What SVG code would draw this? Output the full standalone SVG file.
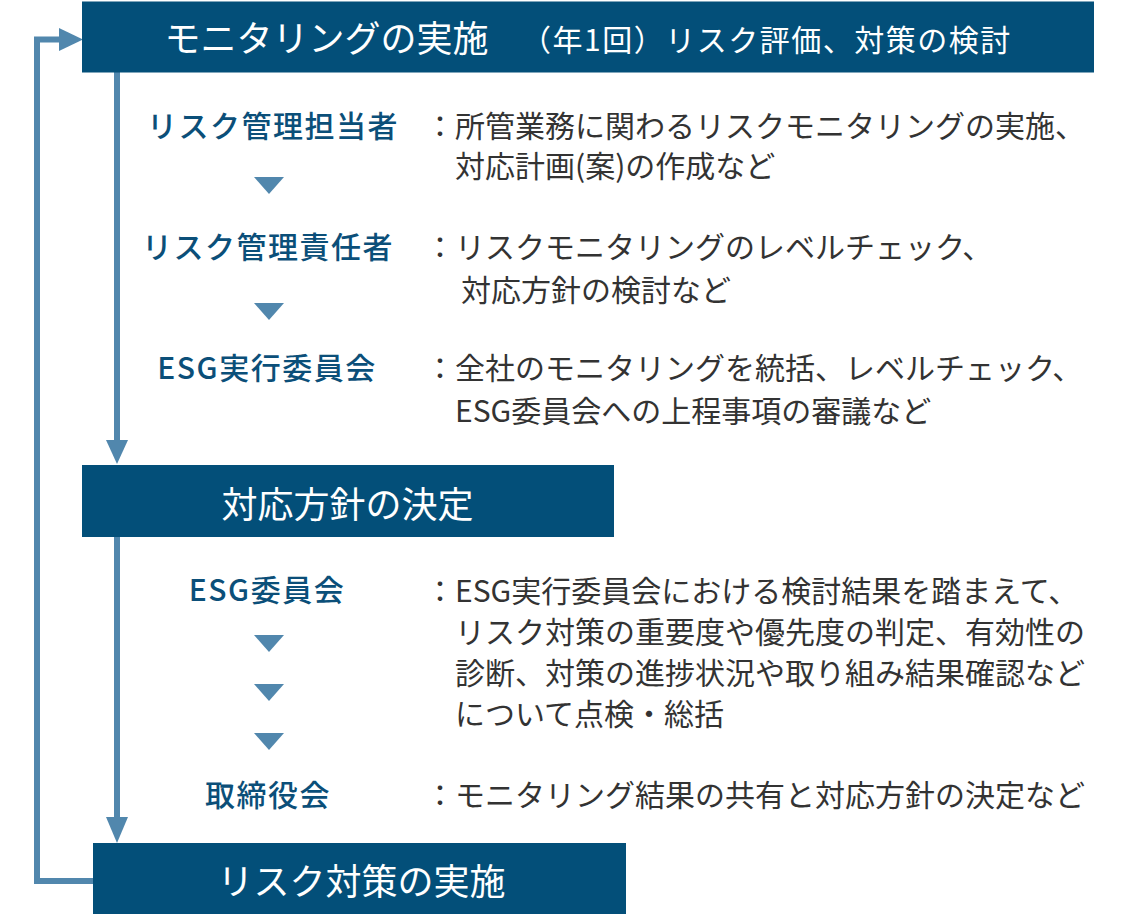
<svg xmlns="http://www.w3.org/2000/svg" width="1134" height="914" viewBox="0 0 1134 914">
<defs>
<style>
.bar{fill:#034f79}
.bt{fill:#ffffff;font-family:"Noto Sans CJK JP","Noto Sans",sans-serif;font-size:36px}
.bs{fill:#ffffff;font-family:"Noto Sans CJK JP","Noto Sans",sans-serif;font-size:30px;letter-spacing:1.5px}
.lb{fill:#0b4f79;font-family:"Noto Sans CJK JP","Noto Sans",sans-serif;font-size:30px;font-weight:500;letter-spacing:1.5px;text-anchor:middle}
.ds{fill:#333333;font-family:"Noto Sans CJK JP","Noto Sans",sans-serif;font-size:30px}
.ln{fill:none;stroke:#5187ad;stroke-width:6}
.ah{fill:#5187ad}
</style>
</defs>
<rect width="1134" height="914" fill="#ffffff"/>
<g id="connectors">
<path class="ln" d="M93,881 H37 V39.5 H62"/>
<polygon class="ah" points="59,28 83,39.5 59,51"/>
<line class="ln" x1="117" y1="72" x2="117" y2="442"/>
<polygon class="ah" points="106,440 128,440 117,464"/>
<line class="ln" x1="117" y1="536" x2="117" y2="819"/>
<polygon class="ah" points="106,817 128,817 117,843"/>
<polygon class="ah" points="254,177 284,177 269,194"/>
<polygon class="ah" points="254,303 284,303 269,320"/>
<polygon class="ah" points="254,635 284,635 269,652"/>
<polygon class="ah" points="254,684 284,684 269,701"/>
<polygon class="ah" points="254,733 284,733 269,750"/>
</g>
<g id="node-monitoring">
<rect class="bar" x="82" y="1.5" width="1012" height="71"/>
<text class="bt" x="326.5" y="52" text-anchor="middle">モニタリングの実施</text>
<text class="bs" x="521" y="51">（年1回）リスク評価、対策の検討</text>
</g>
<g id="node-tantousha">
<text class="lb" x="273" y="137">リスク管理担当者</text>
<text class="ds" x="425" y="137">：所管業務に関わるリスクモニタリングの実施、</text>
<text class="ds" x="455" y="177">対応計画(案)の作成など</text>
</g>
<g id="node-sekininsha">
<text class="lb" x="268" y="258">リスク管理責任者</text>
<text class="ds" x="425" y="258">：リスクモニタリングのレベルチェック、</text>
<text class="ds" x="461" y="301">対応方針の検討など</text>
</g>
<g id="node-esg-exec">
<text class="lb" x="267" y="379">ESG実行委員会</text>
<text class="ds" x="425" y="379">：全社のモニタリングを統括、レベルチェック、</text>
<text class="ds" x="455" y="422">ESG委員会への上程事項の審議など</text>
</g>
<g id="node-decision">
<rect class="bar" x="82" y="465" width="532" height="72"/>
<text class="bt" x="347.5" y="518" text-anchor="middle">対応方針の決定</text>
</g>
<g id="node-esg">
<text class="lb" x="267" y="601">ESG委員会</text>
<text class="ds" x="425" y="602">：ESG実行委員会における検討結果を踏まえて、</text>
<text class="ds" x="455" y="643">リスク対策の重要度や優先度の判定、有効性の</text>
<text class="ds" x="455" y="684">診断、対策の進捗状況や取り組み結果確認など</text>
<text class="ds" x="455" y="725">について点検・総括</text>
</g>
<g id="node-board">
<text class="lb" x="268" y="806">取締役会</text>
<text class="ds" x="425" y="806">：モニタリング結果の共有と対応方針の決定など</text>
</g>
<g id="node-action">
<rect class="bar" x="93" y="843" width="533" height="71"/>
<text class="bt" x="361.5" y="895" text-anchor="middle">リスク対策の実施</text>
</g>
</svg>
